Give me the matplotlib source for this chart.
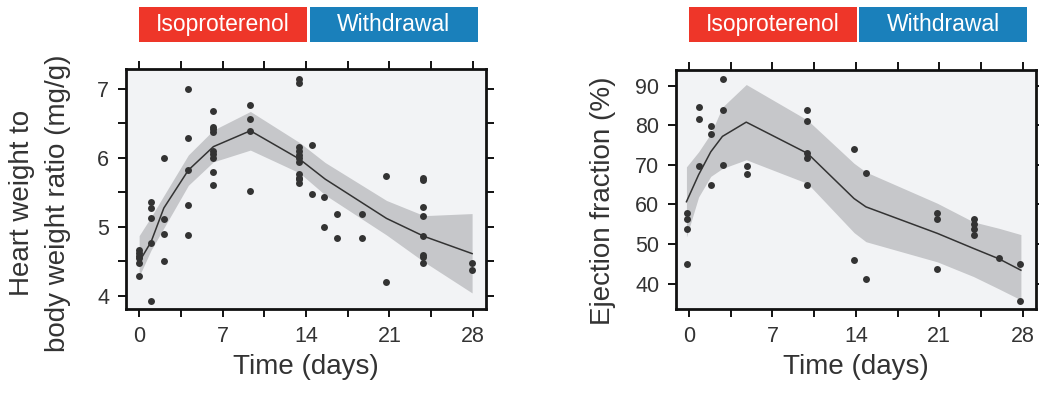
import matplotlib
matplotlib.use("Agg")
import matplotlib.pyplot as plt
import matplotlib.transforms as mtransforms
from matplotlib.patches import Rectangle
import numpy as np

plt.rcParams['font.family'] = ['Liberation Sans', 'DejaVu Sans']

# ---------------- data: heart weight / body weight ----------------
hw_days = [0]*6 + [1.03]*5 + [2.07]*4 + [4.13]*5 + [6.23]*9 + [9.33]*4 + \
          [13.44]*11 + [14.5]*2 + [15.53]*2 + [16.56]*2 + [18.66]*2 + [20.7]*2 + [23.83]*8 + [27.93]*2
hw_vals = [4.66, 4.62, 4.58, 4.54, 4.47, 4.28,
           5.36, 5.27, 5.12, 4.77, 3.93,
           6.00, 5.11, 4.90, 4.50,
           6.99, 6.29, 5.82, 5.32, 4.88,
           6.68, 6.45, 6.41, 6.37, 6.10, 6.06, 5.99, 5.79, 5.60,
           6.76, 6.56, 6.39, 5.51,
           7.14, 7.08, 6.15, 6.09, 6.04, 5.99, 5.94, 5.76, 5.71, 5.69, 5.63,
           6.19, 5.47,
           5.43, 4.99,
           5.19, 4.83,
           5.19, 4.84,
           5.74, 4.20,
           5.70, 5.67, 5.28, 5.15, 4.86, 4.59, 4.56, 4.48,
           4.48, 4.37]
hw_fit_days = [0, 1.0, 2.07, 4.13, 6.23, 9.33, 13.45, 15.6, 20.75, 23.9, 27.93]
hw_fit_mean = [4.49, 4.78, 5.27, 5.82, 6.16, 6.39, 5.98, 5.69, 5.12, 4.86, 4.61]
hw_fit_hi = [4.87, 5.14, 5.45, 6.04, 6.40, 6.67, 6.22, 5.93, 5.38, 5.16, 5.19]
hw_fit_lo = [4.28, 4.66, 4.98, 5.60, 5.94, 6.11, 5.78, 5.46, 4.88, 4.49, 4.04]

# ---------------- data: ejection fraction ----------------
ef_days = [-0.15]*4 + [0.83]*3 + [1.85]*3 + [2.83]*3 + [4.85]*2 + [9.9]*5 + \
          [13.83]*2 + [14.84]*2 + [20.84]*3 + [23.9]*4 + [26.0] + [27.8]*2
ef_vals = [57.8, 56.4, 53.9, 44.9,
           84.7, 81.7, 69.7,
           79.9, 77.9, 64.9,
           91.6, 83.9, 70.0,
           69.8, 67.7,
           83.9, 81.1, 72.9, 71.7, 64.9,
           74.0, 46.1,
           67.9, 41.3,
           57.8, 56.4, 43.8,
           56.3, 55.0, 53.8, 52.2,
           46.4,
           44.9, 35.5]
ef_fit_days = [-0.22, 0.8, 1.82, 2.8, 4.8, 9.95, 13.85, 14.85, 20.85, 23.88, 26.0, 27.86]
ef_fit_mean = [60.7, 67.5, 73.3, 77.2, 80.8, 72.9, 61.5, 59.4, 52.7, 48.9, 46.3, 43.4]
ef_fit_hi = [69.5, 73.3, 77.9, 84.6, 90.3, 81.3, 70.4, 68.2, 60.3, 55.6, 54.0, 52.4]
ef_fit_lo = [51.8, 61.9, 67.1, 69.1, 71.3, 65.3, 52.9, 50.6, 45.5, 41.8, 38.7, 35.9]

x_major = [0, 7, 14, 21, 28]
x_minor = [3.5, 10.5, 17.5, 24.5]
phases = ["Isoproterenol", "Withdrawal"]
phase_colors = ["#EE3629", "#1A80BB"]
phase_spans = [(0, 14.1), (14.3, 28.4)]

DARK = "#333333"
FACE = "#F2F3F5"
BAND = "#C6C7CA"

fig = plt.figure(figsize=(10.39, 3.95), dpi=100)
ax1 = fig.add_axes([0.1213, 0.2177, 0.3465, 0.6076])
ax2 = fig.add_axes([0.6506, 0.2177, 0.3462, 0.6050])


def style(ax):
    ax.set_facecolor(FACE)
    for s in ax.spines.values():
        s.set_linewidth(2.0)
        s.set_color("#111111")
    ax.set_xticks(x_major)
    ax.set_xticks(x_minor, minor=True)
    ax.tick_params(which="both", direction="out", length=6, width=1.4,
                   color="#111111", top=True, right=True,
                   labelsize=15.5, labelcolor=DARK, pad=6)
    ax.set_xlim(-1.1, 29.1)
    ax.set_xlabel("Time (days)", fontsize=20, color=DARK, labelpad=5)


def draw(ax, days, vals, fd, fm, flo, fhi):
    ax.fill_between(fd, flo, fhi, color=BAND, lw=0, zorder=1)
    ax.plot(fd, fm, color=DARK, lw=1.1, zorder=2)
    ax.scatter(days, vals, s=25, color=DARK, lw=0, zorder=3)


draw(ax1, hw_days, hw_vals, hw_fit_days, hw_fit_mean, hw_fit_lo, hw_fit_hi)
style(ax1)
ax1.set_ylim(3.807, 7.285)
ax1.set_yticks([4, 5, 6, 7])
ax1.set_yticks([4.5, 5.5, 6.5], minor=True)
ax1.set_ylabel("Heart weight to\nbody weight ratio (mg/g)", fontsize=20,
               color=DARK, linespacing=1.5)
ax1.yaxis.set_label_coords(-0.152, 0.44)

draw(ax2, ef_days, ef_vals, ef_fit_days, ef_fit_mean, ef_fit_lo, ef_fit_hi)
style(ax2)
ax2.set_ylim(33.6, 93.96)
ax2.set_yticks([40, 50, 60, 70, 80, 90])
ax2.set_ylabel("Ejection fraction (%)", fontsize=20, color=DARK)
ax2.yaxis.set_label_coords(-0.168, 0.455)

for ax in (ax1, ax2):
    tr = mtransforms.blended_transform_factory(ax.transData, fig.transFigure)
    for name, col, (a, b) in zip(phases, phase_colors, phase_spans):
        ax.add_patch(Rectangle((a, 0.8944), b - a, 0.0886, transform=tr,
                               facecolor=col, edgecolor="none", clip_on=False))
        ax.text((a + b) / 2, 0.8944 + 0.0886 / 2, name, transform=tr,
                ha="center", va="center", color="white", fontsize=16.5)

fig.savefig("out.png", dpi=100)
